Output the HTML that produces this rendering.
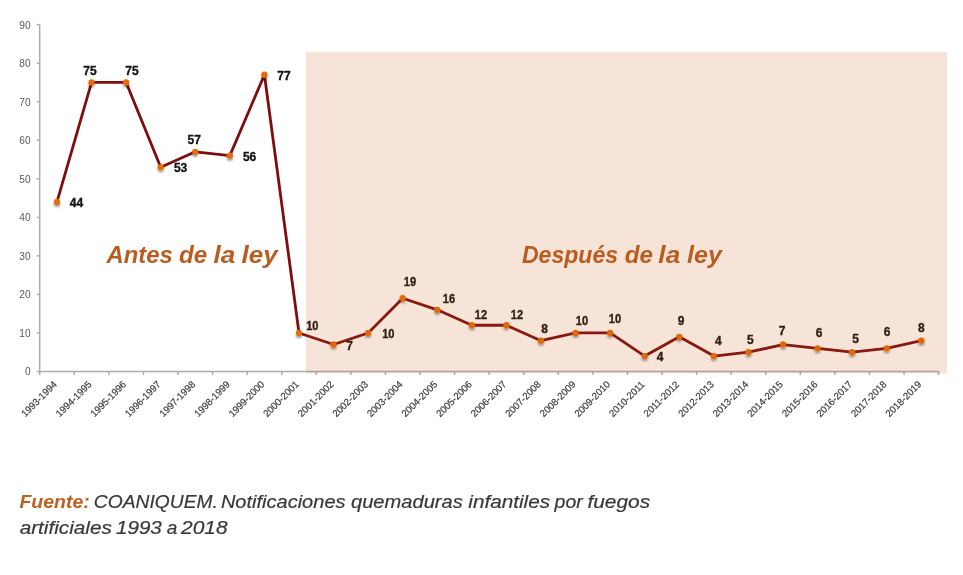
<!DOCTYPE html>
<html lang="es"><head><meta charset="utf-8"><title>Notificaciones quemaduras infantiles por fuegos artificiales</title>
<style>
html,body{margin:0;padding:0;background:#fff;}
body{width:963px;height:575px;overflow:hidden;position:relative;font-family:"Liberation Sans",sans-serif;}
svg{position:absolute;left:0;top:0;display:block;}
.yl{font:10.1px "Liberation Sans",sans-serif;fill:#595959;text-anchor:end;}
.xl{font:9.8px "Liberation Sans",sans-serif;fill:#3c3c3c;stroke:#3c3c3c;stroke-width:0.2px;text-anchor:end;}
.dl{font:bold 12px "Liberation Sans",sans-serif;fill:#141414;stroke:#141414;stroke-width:0.35px;text-anchor:middle;}
.big{font:italic bold 24px "Liberation Sans",sans-serif;fill:#bb5c1f;}
.cp{font:italic 18.6px "Liberation Sans",sans-serif;fill:#383838;stroke:#383838;stroke-width:0.2px;}
.cp .f{font-weight:bold;fill:#c0601e;stroke:none;}
</style></head><body>
<svg width="963" height="575" viewBox="0 0 963 575">
<defs><filter id="sh" x="-50%" y="-50%" width="200%" height="200%"><feGaussianBlur in="SourceAlpha" stdDeviation="1.1"/><feOffset dx="0" dy="1.6"/><feComponentTransfer><feFuncA type="linear" slope="0.4"/></feComponentTransfer><feMerge><feMergeNode/><feMergeNode in="SourceGraphic"/></feMerge></filter></defs>

<g stroke="#adadad" stroke-width="1.5" fill="none">
<path d="M39.7 24.6V371.8"/>
<path d="M39.2 371.5H938.6"/>
<path d="M36.7 371.50H39.7"/>
<path d="M36.7 332.96H39.7"/>
<path d="M36.7 294.41H39.7"/>
<path d="M36.7 255.87H39.7"/>
<path d="M36.7 217.32H39.7"/>
<path d="M36.7 178.78H39.7"/>
<path d="M36.7 140.23H39.7"/>
<path d="M36.7 101.69H39.7"/>
<path d="M36.7 63.14H39.7"/>
<path d="M36.7 24.60H39.7"/>
<path d="M39.70 371.5V375.0"/>
<path d="M74.27 371.5V375.0"/>
<path d="M108.85 371.5V375.0"/>
<path d="M143.42 371.5V375.0"/>
<path d="M177.99 371.5V375.0"/>
<path d="M212.57 371.5V375.0"/>
<path d="M247.14 371.5V375.0"/>
<path d="M281.71 371.5V375.0"/>
<path d="M316.28 371.5V375.0"/>
<path d="M350.86 371.5V375.0"/>
<path d="M385.43 371.5V375.0"/>
<path d="M420.00 371.5V375.0"/>
<path d="M454.58 371.5V375.0"/>
<path d="M489.15 371.5V375.0"/>
<path d="M523.72 371.5V375.0"/>
<path d="M558.30 371.5V375.0"/>
<path d="M592.87 371.5V375.0"/>
<path d="M627.44 371.5V375.0"/>
<path d="M662.02 371.5V375.0"/>
<path d="M696.59 371.5V375.0"/>
<path d="M731.16 371.5V375.0"/>
<path d="M765.73 371.5V375.0"/>
<path d="M800.31 371.5V375.0"/>
<path d="M834.88 371.5V375.0"/>
<path d="M869.45 371.5V375.0"/>
<path d="M904.03 371.5V375.0"/>
<path d="M938.60 371.5V375.0"/>
</g>
<text class="yl" x="30.6" y="375.40">0</text>
<text class="yl" x="30.6" y="336.86">10</text>
<text class="yl" x="30.6" y="298.31">20</text>
<text class="yl" x="30.6" y="259.77">30</text>
<text class="yl" x="30.6" y="221.22">40</text>
<text class="yl" x="30.6" y="182.68">50</text>
<text class="yl" x="30.6" y="144.13">60</text>
<text class="yl" x="30.6" y="105.59">70</text>
<text class="yl" x="30.6" y="67.04">80</text>
<text class="yl" x="30.6" y="28.50">90</text>
<text class="xl" textLength="45.7" lengthAdjust="spacingAndGlyphs" transform="translate(57.59 385.10) rotate(-45)">1993-1994</text>
<text class="xl" textLength="45.7" lengthAdjust="spacingAndGlyphs" transform="translate(92.16 385.10) rotate(-45)">1994-1995</text>
<text class="xl" textLength="45.7" lengthAdjust="spacingAndGlyphs" transform="translate(126.73 385.10) rotate(-45)">1995-1996</text>
<text class="xl" textLength="45.7" lengthAdjust="spacingAndGlyphs" transform="translate(161.31 385.10) rotate(-45)">1996-1997</text>
<text class="xl" textLength="45.7" lengthAdjust="spacingAndGlyphs" transform="translate(195.88 385.10) rotate(-45)">1997-1998</text>
<text class="xl" textLength="45.7" lengthAdjust="spacingAndGlyphs" transform="translate(230.45 385.10) rotate(-45)">1998-1999</text>
<text class="xl" textLength="45.7" lengthAdjust="spacingAndGlyphs" transform="translate(265.03 385.10) rotate(-45)">1999-2000</text>
<text class="xl" textLength="45.7" lengthAdjust="spacingAndGlyphs" transform="translate(299.60 385.10) rotate(-45)">2000-2001</text>
<text class="xl" textLength="45.7" lengthAdjust="spacingAndGlyphs" transform="translate(334.17 385.10) rotate(-45)">2001-2002</text>
<text class="xl" textLength="45.7" lengthAdjust="spacingAndGlyphs" transform="translate(368.74 385.10) rotate(-45)">2002-2003</text>
<text class="xl" textLength="45.7" lengthAdjust="spacingAndGlyphs" transform="translate(403.32 385.10) rotate(-45)">2003-2004</text>
<text class="xl" textLength="45.7" lengthAdjust="spacingAndGlyphs" transform="translate(437.89 385.10) rotate(-45)">2004-2005</text>
<text class="xl" textLength="45.7" lengthAdjust="spacingAndGlyphs" transform="translate(472.46 385.10) rotate(-45)">2005-2006</text>
<text class="xl" textLength="45.7" lengthAdjust="spacingAndGlyphs" transform="translate(507.04 385.10) rotate(-45)">2006-2007</text>
<text class="xl" textLength="45.7" lengthAdjust="spacingAndGlyphs" transform="translate(541.61 385.10) rotate(-45)">2007-2008</text>
<text class="xl" textLength="45.7" lengthAdjust="spacingAndGlyphs" transform="translate(576.18 385.10) rotate(-45)">2008-2009</text>
<text class="xl" textLength="45.7" lengthAdjust="spacingAndGlyphs" transform="translate(610.76 385.10) rotate(-45)">2009-2010</text>
<text class="xl" textLength="45.7" lengthAdjust="spacingAndGlyphs" transform="translate(645.33 385.10) rotate(-45)">2010-2011</text>
<text class="xl" textLength="45.7" lengthAdjust="spacingAndGlyphs" transform="translate(679.90 385.10) rotate(-45)">2011-2012</text>
<text class="xl" textLength="45.7" lengthAdjust="spacingAndGlyphs" transform="translate(714.48 385.10) rotate(-45)">2012-2013</text>
<text class="xl" textLength="45.7" lengthAdjust="spacingAndGlyphs" transform="translate(749.05 385.10) rotate(-45)">2013-2014</text>
<text class="xl" textLength="45.7" lengthAdjust="spacingAndGlyphs" transform="translate(783.62 385.10) rotate(-45)">2014-2015</text>
<text class="xl" textLength="45.7" lengthAdjust="spacingAndGlyphs" transform="translate(818.19 385.10) rotate(-45)">2015-2016</text>
<text class="xl" textLength="45.7" lengthAdjust="spacingAndGlyphs" transform="translate(852.77 385.10) rotate(-45)">2016-2017</text>
<text class="xl" textLength="45.7" lengthAdjust="spacingAndGlyphs" transform="translate(887.34 385.10) rotate(-45)">2017-2018</text>
<text class="xl" textLength="45.7" lengthAdjust="spacingAndGlyphs" transform="translate(921.91 385.10) rotate(-45)">2018-2019</text>
<polyline points="56.99,201.90 91.56,82.42 126.13,82.42 160.71,167.21 195.28,151.80 229.85,155.65 264.43,74.71 299.00,332.96 333.57,344.52 368.14,332.96 402.72,298.27 437.29,309.83 471.86,325.25 506.44,325.25 541.01,340.66 575.58,332.96 610.16,332.96 644.73,356.08 679.30,336.81 713.88,356.08 748.45,352.23 783.02,344.52 817.59,348.37 852.17,352.23 886.74,348.37 921.31,340.66" fill="none" stroke="#7f0d0e" stroke-width="2.8" stroke-linejoin="round" stroke-linecap="round"/>
<g filter="url(#sh)">
<circle cx="56.99" cy="201.90" r="3.15" fill="#e46c0a"/>
<circle cx="91.56" cy="82.42" r="3.15" fill="#e46c0a"/>
<circle cx="126.13" cy="82.42" r="3.15" fill="#e46c0a"/>
<circle cx="160.71" cy="167.21" r="3.15" fill="#e46c0a"/>
<circle cx="195.28" cy="151.80" r="3.15" fill="#e46c0a"/>
<circle cx="229.85" cy="155.65" r="3.15" fill="#e46c0a"/>
<circle cx="264.43" cy="74.71" r="3.15" fill="#e46c0a"/>
<circle cx="299.00" cy="332.96" r="3.15" fill="#e46c0a"/>
<circle cx="333.57" cy="344.52" r="3.15" fill="#e46c0a"/>
<circle cx="368.14" cy="332.96" r="3.15" fill="#e46c0a"/>
<circle cx="402.72" cy="298.27" r="3.15" fill="#e46c0a"/>
<circle cx="437.29" cy="309.83" r="3.15" fill="#e46c0a"/>
<circle cx="471.86" cy="325.25" r="3.15" fill="#e46c0a"/>
<circle cx="506.44" cy="325.25" r="3.15" fill="#e46c0a"/>
<circle cx="541.01" cy="340.66" r="3.15" fill="#e46c0a"/>
<circle cx="575.58" cy="332.96" r="3.15" fill="#e46c0a"/>
<circle cx="610.16" cy="332.96" r="3.15" fill="#e46c0a"/>
<circle cx="644.73" cy="356.08" r="3.15" fill="#e46c0a"/>
<circle cx="679.30" cy="336.81" r="3.15" fill="#e46c0a"/>
<circle cx="713.88" cy="356.08" r="3.15" fill="#e46c0a"/>
<circle cx="748.45" cy="352.23" r="3.15" fill="#e46c0a"/>
<circle cx="783.02" cy="344.52" r="3.15" fill="#e46c0a"/>
<circle cx="817.59" cy="348.37" r="3.15" fill="#e46c0a"/>
<circle cx="852.17" cy="352.23" r="3.15" fill="#e46c0a"/>
<circle cx="886.74" cy="348.37" r="3.15" fill="#e46c0a"/>
<circle cx="921.31" cy="340.66" r="3.15" fill="#e46c0a"/>
</g>
<text class="dl" x="76.5" y="206.9">44</text>
<text class="dl" x="90" y="74.9">75</text>
<text class="dl" x="132" y="74.9">75</text>
<text class="dl" x="180.6" y="171.9">53</text>
<text class="dl" x="194.3" y="143.9">57</text>
<text class="dl" x="249.6" y="160.9">56</text>
<text class="dl" x="284" y="79.9">77</text>
<text class="dl" x="312.3" y="329.9" textLength="12.3" lengthAdjust="spacingAndGlyphs">10</text>
<text class="dl" x="349.7" y="349.7">7</text>
<text class="dl" x="388.3" y="337.9" textLength="12.3" lengthAdjust="spacingAndGlyphs">10</text>
<text class="dl" x="409.9" y="286.4" textLength="12.3" lengthAdjust="spacingAndGlyphs">19</text>
<text class="dl" x="448.9" y="303.4" textLength="12.3" lengthAdjust="spacingAndGlyphs">16</text>
<text class="dl" x="480.9" y="318.9" textLength="12.3" lengthAdjust="spacingAndGlyphs">12</text>
<text class="dl" x="516.9" y="318.9" textLength="12.3" lengthAdjust="spacingAndGlyphs">12</text>
<text class="dl" x="544.5" y="332.8">8</text>
<text class="dl" x="581.9" y="325.1" textLength="12.3" lengthAdjust="spacingAndGlyphs">10</text>
<text class="dl" x="614.9" y="322.9" textLength="12.3" lengthAdjust="spacingAndGlyphs">10</text>
<text class="dl" x="660" y="361.4">4</text>
<text class="dl" x="681" y="324.9">9</text>
<text class="dl" x="718.3" y="345.2">4</text>
<text class="dl" x="750.3" y="343.9">5</text>
<text class="dl" x="782" y="334.9">7</text>
<text class="dl" x="819" y="336.9">6</text>
<text class="dl" x="855.6" y="342.9">5</text>
<text class="dl" x="887" y="335.8">6</text>
<text class="dl" x="921.3" y="331.9">8</text>
<rect x="305.9" y="51.8" width="641.1" height="321.6" fill="#c55a11" fill-opacity="0.16"/>
<text class="cp" y="507.7"> <tspan x="19.45" textLength="70.30" lengthAdjust="spacingAndGlyphs" class="f">Fuente:</tspan> <tspan x="93.81" textLength="124.07" lengthAdjust="spacingAndGlyphs">COANIQUEM.</tspan> <tspan x="220.92" textLength="124.62" lengthAdjust="spacingAndGlyphs">Notificaciones</tspan> <tspan x="350.99" textLength="111.83" lengthAdjust="spacingAndGlyphs">quemaduras</tspan> <tspan x="468.29" textLength="81.80" lengthAdjust="spacingAndGlyphs">infantiles</tspan> <tspan x="554.59" textLength="28.13" lengthAdjust="spacingAndGlyphs">por</tspan> <tspan x="587.45" textLength="62.71" lengthAdjust="spacingAndGlyphs">fuegos</tspan></text>
<text class="cp" y="533.8"> <tspan x="19.66" textLength="92.16" lengthAdjust="spacingAndGlyphs">artificiales</tspan> <tspan x="115.95" textLength="45.90" lengthAdjust="spacingAndGlyphs">1993</tspan> <tspan x="166.73" textLength="10.58" lengthAdjust="spacingAndGlyphs">a</tspan> <tspan x="181.05" textLength="46.62" lengthAdjust="spacingAndGlyphs">2018</tspan></text>
<text class="big" y="262.8"> <tspan x="106.50" textLength="66.24" lengthAdjust="spacingAndGlyphs">Antes</tspan> <tspan x="178.97" textLength="28.24" lengthAdjust="spacingAndGlyphs">de</tspan> <tspan x="213.57" textLength="21.73" lengthAdjust="spacingAndGlyphs">la</tspan> <tspan x="241.43" textLength="36.25" lengthAdjust="spacingAndGlyphs">ley</tspan></text>
<text class="big" y="262.8"> <tspan x="521.94" textLength="96.16" lengthAdjust="spacingAndGlyphs">Después</tspan> <tspan x="624.70" textLength="28.16" lengthAdjust="spacingAndGlyphs">de</tspan> <tspan x="658.39" textLength="21.77" lengthAdjust="spacingAndGlyphs">la</tspan> <tspan x="687.13" textLength="34.91" lengthAdjust="spacingAndGlyphs">ley</tspan></text>
</svg>
</body></html>
